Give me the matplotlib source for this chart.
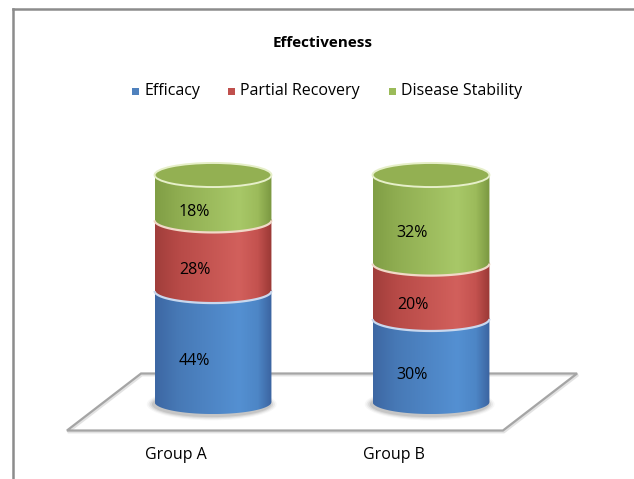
import numpy as np
import matplotlib
matplotlib.use("Agg")
import matplotlib.pyplot as plt
from matplotlib.patches import Ellipse, Polygon, Rectangle, PathPatch
from matplotlib.path import Path
from matplotlib.colors import LinearSegmentedColormap
from matplotlib.lines import Line2D

# ---- data -------------------------------------------------------------
categories = ["Group A", "Group B"]
series_names = ["Efficacy", "Partial Recovery", "Disease Stability"]
efficacy = [44, 30]
partial_recovery = [28, 20]
disease_stability = [18, 32]
title = "Effectiveness"

series_values = [efficacy, partial_recovery, disease_stability]

# ---- style ------------------------------------------------------------
FONT = "Open Sans"
base_colors = ["#4F81BD", "#C0504D", "#9BBB59"]
grad_stops = [
    ["#3D67A3", "#4779B6", "#5490D2", "#4D86C6", "#3B63A0"],
    ["#A03E3B", "#B74A47", "#D2605C", "#C4524F", "#9A3835"],
    ["#809E45", "#8FAD51", "#A8C868", "#9CBB5B", "#7A9740"],
]
cap_colors = ["#4A7CB8", "#B84B48", "#93B052"]
rim_colors = ["#C9D8EE", "#F1D9C8", "#E6EFC9"]

W, H = 634, 479
fig = plt.figure(figsize=(W / 100, H / 100), dpi=100)
ax = fig.add_axes([0, 0, 1, 1])
ax.set_xlim(-213 / 218, 421 / 218)
ax.set_ylim(-77 / 227, 402 / 227)
ax.axis("off")

half_w = 0.268      # cylinder radius (x units)
ell_b = 0.053       # apparent depth of the elliptical caps (share units)
depth_dx, depth_dy = 0.17, 0.1256   # half depth of the floor box

# ---- floor ------------------------------------------------------------
x_lo, x_hi = -0.5, len(categories) - 0.5
floor = [
    (x_lo - depth_dx, -depth_dy), (x_hi - depth_dx, -depth_dy),
    (x_hi + depth_dx, depth_dy), (x_lo + depth_dx, depth_dy),
]
ax.add_patch(Polygon([(x + 0.004, y - 0.006) for x, y in floor], closed=True,
                     fill=False, edgecolor="#E2E2E2", lw=2.2, zorder=1))
ax.add_patch(Polygon(floor, closed=True, fill=False, edgecolor="#A5A5A5",
                     lw=1.6, zorder=1.1))


def body_path(xc, y0, y1):
    t1 = np.linspace(np.pi, 2 * np.pi, 60)   # lower arc, left -> right
    t2 = np.linspace(0, np.pi, 60)           # upper arc, right -> left
    low = np.column_stack([xc + half_w * np.cos(t1), y0 + ell_b * np.sin(t1)])
    up = np.column_stack([xc + half_w * np.cos(t2), y1 + ell_b * np.sin(t2)])
    verts = np.vstack([low, up, low[:1]])
    codes = [Path.MOVETO] + [Path.LINETO] * (len(verts) - 2) + [Path.CLOSEPOLY]
    return Path(verts, codes)


totals = np.sum(series_values, axis=0)
z = 2
for ci, cat in enumerate(categories):
    xc = ci
    # soft shadow under the cylinder
    for k, al in enumerate([0.03, 0.05, 0.07, 0.09]):
        grow = 0.03 - k * 0.008
        ax.add_patch(Ellipse((xc - 0.006, -0.01), 2 * (half_w + grow),
                             2 * (ell_b + grow * 0.6), facecolor="#000000",
                             edgecolor="none", alpha=al, zorder=z))
    z += 1
    bottom = 0.0
    n = len(series_values)
    for si in range(n):
        val = series_values[si][ci]
        share = val / totals[ci]
        y0, y1 = bottom, bottom + share
        cmap = LinearSegmentedColormap.from_list(
            f"g{si}", list(zip([0, 0.2, 0.72, 0.88, 1.0], grad_stops[si])))
        grad = np.linspace(0, 1, 256)[None, :]
        im = ax.imshow(grad, cmap=cmap, aspect="auto",
                       extent=[xc - half_w, xc + half_w, y0 - ell_b, y1 + ell_b],
                       origin="lower", zorder=z, interpolation="bilinear")
        clip = PathPatch(body_path(xc, y0, y1), transform=ax.transData,
                         facecolor="none", edgecolor="none")
        ax.add_patch(clip)
        im.set_clip_path(clip)
        # light rim on the lower edge of upper segments
        if si > 0:
            t = np.linspace(np.pi, 2 * np.pi, 80)
            ax.plot(xc + half_w * np.cos(t), y0 + ell_b * np.sin(t),
                    color=rim_colors[si - 1], lw=1.6, zorder=z + 0.5,
                    solid_capstyle="butt")
        # cap on the top segment
        if si == n - 1:
            ax.add_patch(Ellipse((xc, y1), 2 * half_w, 2 * ell_b,
                                 facecolor=cap_colors[si],
                                 edgecolor=rim_colors[si], lw=1.4,
                                 zorder=z + 0.6))
        ax.text(xc - depth_dx / 2, (y0 + y1) / 2 - 0.062, f"{val}%",
                ha="center", va="center", fontsize=11.5, family=FONT,
                color="#000000", zorder=z + 1)
        bottom = y1
        z += 2
    ax.text(xc - depth_dx, -0.233, cat, ha="center", va="center",
            fontsize=11.5, family=FONT, color="#000000")

# ---- title and legend -------------------------------------------------
fig.text(323 / W, 1 - 43 / H, title, ha="center", va="center",
         fontsize=11, fontweight="bold", family=FONT)

leg_y = 1 - 91 / H
leg_x = [132, 228, 389]
for name, col, lx in zip(series_names, base_colors, leg_x):
    fig.patches.append(Rectangle((lx / W, leg_y - 3.5 / H), 7 / W, 7 / H,
                                 transform=fig.transFigure, facecolor=col,
                                 edgecolor="none"))
    fig.text((lx + 12) / W, leg_y, name, ha="left", va="center",
             fontsize=11.5, family=FONT)

# ---- chart frame ------------------------------------------------------
fig.add_artist(Line2D([13 / W, 13 / W], [0, 1 - 9 / H],
                      transform=fig.transFigure, color="#8C8C8C", lw=1.8))
fig.add_artist(Line2D([13 / W, 1], [1 - 9 / H, 1 - 9 / H],
                      transform=fig.transFigure, color="#8C8C8C", lw=1.8))

fig.savefig("out.png", dpi=100, facecolor="white")
